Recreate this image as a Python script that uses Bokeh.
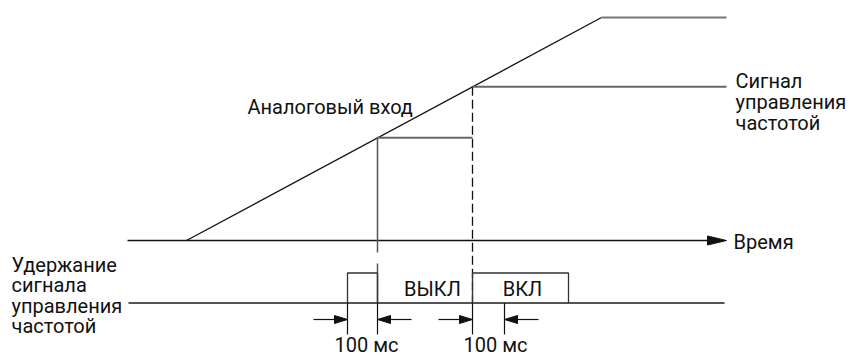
import numpy as np
from bokeh.plotting import figure
from bokeh.models import Range1d
from bokeh.embed import file_html
from bokeh.resources import INLINE
from bokeh.core.properties import value

# ---- data (horizontal = time position, vertical = signal level, diagram units) ----
axis_t = [127, 726]          # time axis extent
axis_level = 240             # zero level of the time axis
ramp_t = [186, 601, 726]     # analog input: start of ramp, end of ramp, end
ramp_v = [240, 17, 17]       # analog input levels
sample_t = [377, 472]        # instants when control signal is updated
ctrl_end = 726               # end of frequency-control signal
hold_base = 302.5            # hold signal low level
hold_high = 272.5            # hold signal high level
hold_start_t = 128
hold_end_t = 724
pulse_t = [(347, 377), (472, 568)]   # hold pulses (start, end)
delay_pairs = [(347, 377), (472, 504)]  # 100 ms intervals
delay_label = ["100 мс", "100 мс"]
delay_label_t = [366, 495]
state_labels = ["ВЫКЛ", "ВКЛ"]
state_label_t = [432, 522]

FONT = value("Roboto")
INK = "#111111"
GRAY = "#555555"

p = figure(width=852, height=356, output_backend="svg", toolbar_location=None,
           x_range=Range1d(0, 852), y_range=Range1d(356, 0),
           min_border=0, outline_line_color=None)
p.axis.visible = False
p.grid.visible = False
p.background_fill_color = "white"
p.border_fill_color = "white"

# time axis
head_len, head_w = 19, 4.5
p.line(x=[axis_t[0], axis_t[1] - head_len + 2], y=[axis_level, axis_level], line_color=INK, line_width=1.5)
p.patch(x=[axis_t[1], axis_t[1] - head_len, axis_t[1] - head_len],
        y=[axis_level, axis_level - head_w, axis_level + head_w], fill_color=INK, line_color=INK)

# analog input ramp
p.line(x=ramp_t[:2], y=ramp_v[:2], line_color=INK, line_width=1.3)
p.line(x=ramp_t[1:], y=ramp_v[1:], line_color="#777777", line_width=2.2)

# frequency control signal
lv = np.interp(sample_t, ramp_t, ramp_v)
p.line(x=[sample_t[0], sample_t[0]], y=[lv[0], 252], line_color=GRAY, line_width=1.5)
p.line(x=[sample_t[0], sample_t[0]], y=[263, hold_base], line_color=GRAY, line_width=1.5)
p.line(x=[sample_t[0], sample_t[1]], y=[lv[0], lv[0]], line_color="#666666", line_width=2)
p.line(x=[sample_t[1], sample_t[1]], y=[lv[1], hold_base], line_color=INK, line_width=1.3, line_dash="9 4")
p.line(x=[sample_t[1], ctrl_end], y=[lv[1], lv[1]], line_color="#666666", line_width=2)

# hold signal
p.line(x=[hold_start_t, hold_end_t], y=[hold_base, hold_base], line_color=GRAY, line_width=2)
for (a, b) in pulse_t:
    p.line(x=[a, a, b, b], y=[hold_base, hold_high, hold_high, hold_base], line_color="#333333", line_width=1.3)

# 100 ms dimension marks
dim_y = 319
tick_bottom = 334
tail = 34
dh_len, dh_w = 13, 4
for (a, b) in delay_pairs:
    for x in (a, b):
        p.line(x=[x, x], y=[hold_base, tick_bottom], line_color=INK, line_width=1.2)
    # left arrow pointing right to a
    p.line(x=[a - tail, a - dh_len + 1], y=[dim_y, dim_y], line_color=INK, line_width=1.2)
    p.patch(x=[a, a - dh_len, a - dh_len], y=[dim_y, dim_y - dh_w, dim_y + dh_w], fill_color=INK, line_color=INK)
    # right arrow pointing left to b
    p.line(x=[b + dh_len - 1, b + tail], y=[dim_y, dim_y], line_color=INK, line_width=1.2)
    p.patch(x=[b, b + dh_len, b + dh_len], y=[dim_y, dim_y - dh_w, dim_y + dh_w], fill_color=INK, line_color=INK)

FS = "20px"
p.text(x=delay_label_t, y=[344, 344], text=delay_label, text_font=FONT, text_font_size=FS,
       text_align="center", text_baseline="middle", text_color=INK)
p.text(x=state_label_t, y=[288, 288], text=state_labels, text_font=FONT, text_font_size=FS,
       text_align="center", text_baseline="middle", text_color=INK)

p.text(x=[247], y=[106], text=["Аналоговый вход"], text_font=FONT, text_font_size=FS,
       text_align="left", text_baseline="middle", text_color=INK)
p.text(x=[733], y=[241], text=["Время"], text_font=FONT, text_font_size=FS,
       text_align="left", text_baseline="middle", text_color=INK)

right_lines = ["Сигнал", "управления", "частотой"]
p.text(x=[735] * 3, y=[80 + 21 * i for i in range(3)], text=right_lines, text_font=FONT,
       text_font_size=FS, text_align="left", text_baseline="middle", text_color=INK)

left_lines = ["Удержание", "сигнала", "управления", "частотой"]
p.text(x=[11] * 4, y=[264 + 20.5 * i for i in range(4)], text=left_lines, text_font=FONT,
       text_font_size=FS, text_align="left", text_baseline="middle", text_color=INK)

open("out.html", "w").write(file_html(p, INLINE))
